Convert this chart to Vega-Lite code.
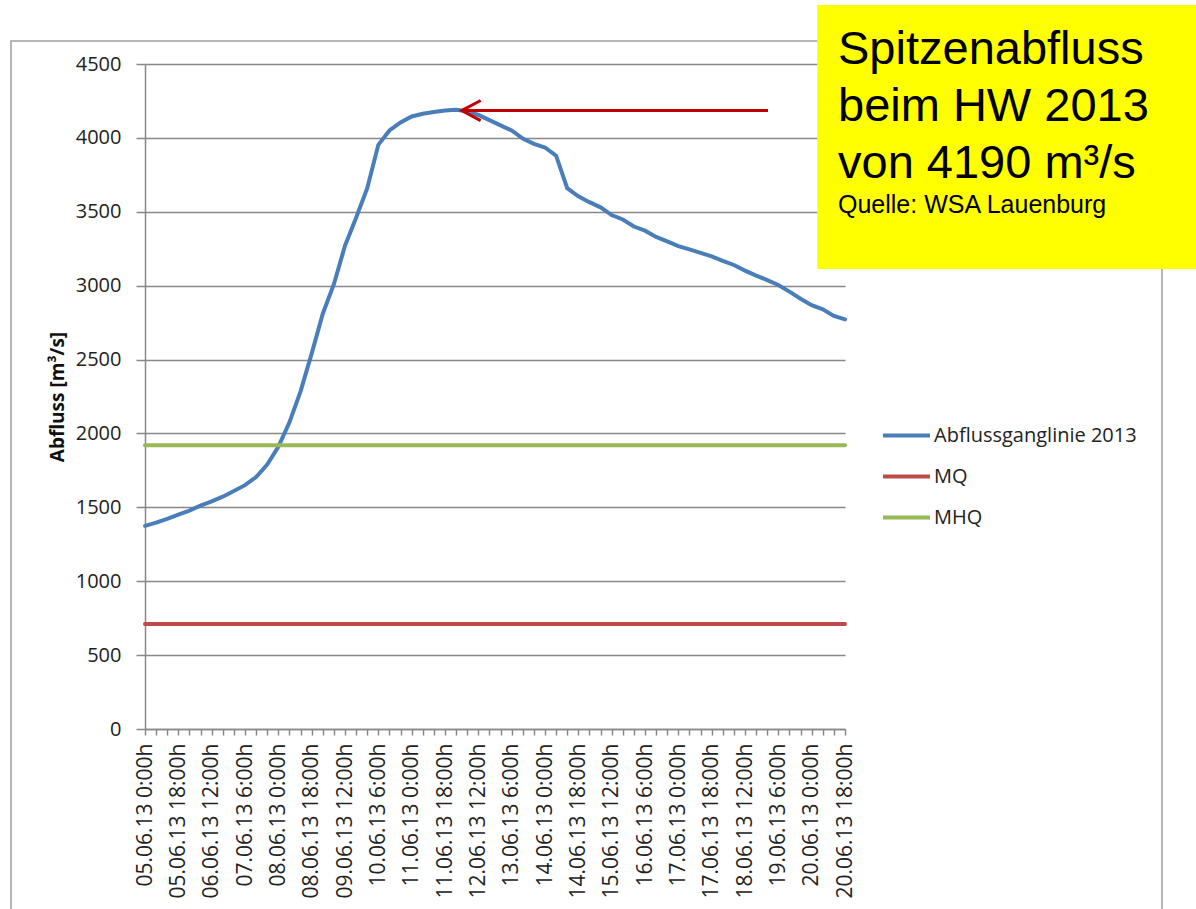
{
  "$schema": "https://vega.github.io/schema/vega-lite/v6.json",
  "width": 700,
  "height": 665,
  "autosize": {"type": "none"},
  "padding": {"left": 145, "top": 64, "right": 351, "bottom": 180},
  "background": "white",
  "config": {"view": {"stroke": null}, "font": "Open Sans"},
  "resolve": {"scale": {"x": "independent", "y": "independent"}},
  "layer": [
    {
      "data": {
        "values": [
          {"k": 0, "t": "05.06.13 0:00h", "Q": 1375, "series": "Abflussganglinie 2013"},
          {"k": 1, "t": "05.06.13 6:00h", "Q": 1396, "series": "Abflussganglinie 2013"},
          {"k": 2, "t": "05.06.13 12:00h", "Q": 1422, "series": "Abflussganglinie 2013"},
          {"k": 3, "t": "05.06.13 18:00h", "Q": 1450, "series": "Abflussganglinie 2013"},
          {"k": 4, "t": "06.06.13 0:00h", "Q": 1478, "series": "Abflussganglinie 2013"},
          {"k": 5, "t": "06.06.13 6:00h", "Q": 1512, "series": "Abflussganglinie 2013"},
          {"k": 6, "t": "06.06.13 12:00h", "Q": 1540, "series": "Abflussganglinie 2013"},
          {"k": 7, "t": "06.06.13 18:00h", "Q": 1572, "series": "Abflussganglinie 2013"},
          {"k": 8, "t": "07.06.13 0:00h", "Q": 1610, "series": "Abflussganglinie 2013"},
          {"k": 9, "t": "07.06.13 6:00h", "Q": 1650, "series": "Abflussganglinie 2013"},
          {"k": 10, "t": "07.06.13 12:00h", "Q": 1705, "series": "Abflussganglinie 2013"},
          {"k": 11, "t": "07.06.13 18:00h", "Q": 1790, "series": "Abflussganglinie 2013"},
          {"k": 12, "t": "08.06.13 0:00h", "Q": 1910, "series": "Abflussganglinie 2013"},
          {"k": 13, "t": "08.06.13 6:00h", "Q": 2075, "series": "Abflussganglinie 2013"},
          {"k": 14, "t": "08.06.13 12:00h", "Q": 2285, "series": "Abflussganglinie 2013"},
          {"k": 15, "t": "08.06.13 18:00h", "Q": 2540, "series": "Abflussganglinie 2013"},
          {"k": 16, "t": "09.06.13 0:00h", "Q": 2810, "series": "Abflussganglinie 2013"},
          {"k": 17, "t": "09.06.13 6:00h", "Q": 3010, "series": "Abflussganglinie 2013"},
          {"k": 18, "t": "09.06.13 12:00h", "Q": 3270, "series": "Abflussganglinie 2013"},
          {"k": 19, "t": "09.06.13 18:00h", "Q": 3460, "series": "Abflussganglinie 2013"},
          {"k": 20, "t": "10.06.13 0:00h", "Q": 3660, "series": "Abflussganglinie 2013"},
          {"k": 21, "t": "10.06.13 6:00h", "Q": 3953, "series": "Abflussganglinie 2013"},
          {"k": 22, "t": "10.06.13 12:00h", "Q": 4050, "series": "Abflussganglinie 2013"},
          {"k": 23, "t": "10.06.13 18:00h", "Q": 4105, "series": "Abflussganglinie 2013"},
          {"k": 24, "t": "11.06.13 0:00h", "Q": 4145, "series": "Abflussganglinie 2013"},
          {"k": 25, "t": "11.06.13 6:00h", "Q": 4163, "series": "Abflussganglinie 2013"},
          {"k": 26, "t": "11.06.13 12:00h", "Q": 4175, "series": "Abflussganglinie 2013"},
          {"k": 27, "t": "11.06.13 18:00h", "Q": 4186, "series": "Abflussganglinie 2013"},
          {"k": 28, "t": "12.06.13 0:00h", "Q": 4190, "series": "Abflussganglinie 2013"},
          {"k": 29, "t": "12.06.13 6:00h", "Q": 4180, "series": "Abflussganglinie 2013"},
          {"k": 30, "t": "12.06.13 12:00h", "Q": 4155, "series": "Abflussganglinie 2013"},
          {"k": 31, "t": "12.06.13 18:00h", "Q": 4120, "series": "Abflussganglinie 2013"},
          {"k": 32, "t": "13.06.13 0:00h", "Q": 4085, "series": "Abflussganglinie 2013"},
          {"k": 33, "t": "13.06.13 6:00h", "Q": 4050, "series": "Abflussganglinie 2013"},
          {"k": 34, "t": "13.06.13 12:00h", "Q": 3995, "series": "Abflussganglinie 2013"},
          {"k": 35, "t": "13.06.13 18:00h", "Q": 3960, "series": "Abflussganglinie 2013"},
          {"k": 36, "t": "14.06.13 0:00h", "Q": 3935, "series": "Abflussganglinie 2013"},
          {"k": 37, "t": "14.06.13 6:00h", "Q": 3880, "series": "Abflussganglinie 2013"},
          {"k": 38, "t": "14.06.13 12:00h", "Q": 3660, "series": "Abflussganglinie 2013"},
          {"k": 39, "t": "14.06.13 18:00h", "Q": 3605, "series": "Abflussganglinie 2013"},
          {"k": 40, "t": "15.06.13 0:00h", "Q": 3565, "series": "Abflussganglinie 2013"},
          {"k": 41, "t": "15.06.13 6:00h", "Q": 3530, "series": "Abflussganglinie 2013"},
          {"k": 42, "t": "15.06.13 12:00h", "Q": 3478, "series": "Abflussganglinie 2013"},
          {"k": 43, "t": "15.06.13 18:00h", "Q": 3448, "series": "Abflussganglinie 2013"},
          {"k": 44, "t": "16.06.13 0:00h", "Q": 3400, "series": "Abflussganglinie 2013"},
          {"k": 45, "t": "16.06.13 6:00h", "Q": 3372, "series": "Abflussganglinie 2013"},
          {"k": 46, "t": "16.06.13 12:00h", "Q": 3330, "series": "Abflussganglinie 2013"},
          {"k": 47, "t": "16.06.13 18:00h", "Q": 3300, "series": "Abflussganglinie 2013"},
          {"k": 48, "t": "17.06.13 0:00h", "Q": 3268, "series": "Abflussganglinie 2013"},
          {"k": 49, "t": "17.06.13 6:00h", "Q": 3245, "series": "Abflussganglinie 2013"},
          {"k": 50, "t": "17.06.13 12:00h", "Q": 3222, "series": "Abflussganglinie 2013"},
          {"k": 51, "t": "17.06.13 18:00h", "Q": 3198, "series": "Abflussganglinie 2013"},
          {"k": 52, "t": "18.06.13 0:00h", "Q": 3168, "series": "Abflussganglinie 2013"},
          {"k": 53, "t": "18.06.13 6:00h", "Q": 3140, "series": "Abflussganglinie 2013"},
          {"k": 54, "t": "18.06.13 12:00h", "Q": 3102, "series": "Abflussganglinie 2013"},
          {"k": 55, "t": "18.06.13 18:00h", "Q": 3068, "series": "Abflussganglinie 2013"},
          {"k": 56, "t": "19.06.13 0:00h", "Q": 3038, "series": "Abflussganglinie 2013"},
          {"k": 57, "t": "19.06.13 6:00h", "Q": 3005, "series": "Abflussganglinie 2013"},
          {"k": 58, "t": "19.06.13 12:00h", "Q": 2960, "series": "Abflussganglinie 2013"},
          {"k": 59, "t": "19.06.13 18:00h", "Q": 2912, "series": "Abflussganglinie 2013"},
          {"k": 60, "t": "20.06.13 0:00h", "Q": 2868, "series": "Abflussganglinie 2013"},
          {"k": 61, "t": "20.06.13 6:00h", "Q": 2840, "series": "Abflussganglinie 2013"},
          {"k": 62, "t": "20.06.13 12:00h", "Q": 2795, "series": "Abflussganglinie 2013"},
          {"k": 63, "t": "20.06.13 18:00h", "Q": 2772, "series": "Abflussganglinie 2013"},
          {"k": 0, "t": "05.06.13 0:00h", "Q": 710, "series": "MQ"},
          {"k": 63, "t": "20.06.13 18:00h", "Q": 710, "series": "MQ"},
          {"k": 0, "t": "05.06.13 0:00h", "Q": 1920, "series": "MHQ"},
          {"k": 63, "t": "20.06.13 18:00h", "Q": 1920, "series": "MHQ"}
        ]
      },
      "mark": {"type": "line", "strokeWidth": 4, "strokeCap": "round"},
      "encoding": {
        "x": {
          "field": "t",
          "type": "nominal",
          "sort": null,
          "scale": {"type": "point", "padding": 0},
          "axis": {
            "title": null,
            "labelAngle": 270,
            "labelAlign": "right",
            "labelBaseline": "middle",
            "labelFont": "Open Sans",
            "labelFontSize": 21,
            "labelColor": "#222222",
            "labelPadding": 8,
            "labelOverlap": false,
            "labelBound": false,
            "labelExpr": "indexof(['05.06.13 0:00h','05.06.13 18:00h','06.06.13 12:00h','07.06.13 6:00h','08.06.13 0:00h','08.06.13 18:00h','09.06.13 12:00h','10.06.13 6:00h','11.06.13 0:00h','11.06.13 18:00h','12.06.13 12:00h','13.06.13 6:00h','14.06.13 0:00h','14.06.13 18:00h','15.06.13 12:00h','16.06.13 6:00h','17.06.13 0:00h','17.06.13 18:00h','18.06.13 12:00h','19.06.13 6:00h','20.06.13 0:00h','20.06.13 18:00h'], datum.value) >= 0 ? datum.value : ''",
            "tickSize": 6,
            "tickColor": "#888888",
            "tickWidth": 1.5,
            "domainColor": "#888888",
            "domainWidth": 1.5,
            "grid": false
          }
        },
        "y": {
          "field": "Q",
          "type": "quantitative",
          "scale": {"domain": [0, 4500], "nice": false, "zero": true},
          "axis": {
            "title": "Abfluss [m³/s]",
            "titleFont": "Open Sans",
            "titleFontSize": 19,
            "titleFontWeight": "bold",
            "titleColor": "#111111",
            "titlePadding": 8,
            "format": "d",
            "values": [0, 500, 1000, 1500, 2000, 2500, 3000, 3500, 4000, 4500],
            "labelFont": "Open Sans",
            "labelFontSize": 20,
            "labelColor": "#222222",
            "labelPadding": 15,
            "tickSize": 9,
            "tickColor": "#888888",
            "tickWidth": 1.5,
            "domainColor": "#888888",
            "domainWidth": 1.5,
            "grid": true,
            "gridColor": "#888888",
            "gridWidth": 1.5
          }
        },
        "order": {"field": "k", "type": "quantitative"},
        "color": {
          "field": "series",
          "type": "nominal",
          "scale": {
            "domain": ["Abflussganglinie 2013", "MQ", "MHQ"],
            "range": ["#4a7ebb", "#be4b48", "#98b954"]
          },
          "legend": {
            "title": null,
            "orient": "none",
            "legendX": 736,
            "legendY": 346,
            "direction": "vertical",
            "symbolType": "stroke",
            "symbolSize": 2209,
            "symbolStrokeWidth": 4,
            "labelFont": "Open Sans",
            "labelFontSize": 20,
            "labelColor": "#222222",
            "labelOffset": 2,
            "labelLimit": 0,
            "rowPadding": 5
          }
        }
      }
    },
    {
      "layer": [
        {
          "data": {"values": [{"x1": -12.06, "x2": 91.53, "y1": -1500, "y2": 4656}]},
          "mark": {"type": "rect", "fillOpacity": 0, "stroke": "#a0a0a0", "strokeWidth": 1.5},
          "encoding": {
            "x": {"field": "x1", "type": "quantitative", "scale": {"domain": [0, 63], "nice": false, "zero": false}, "axis": null},
            "x2": {"field": "x2"},
            "y": {"field": "y1", "type": "quantitative", "scale": {"domain": [0, 4500], "nice": false}, "axis": null},
            "y2": {"field": "y2"}
          }
        },
        {
          "data": {"values": [{"x1": 60.5, "x2": 94.6, "y1": 3113, "y2": 4899}]},
          "mark": {"type": "rect", "fill": "#ffff00"},
          "encoding": {
            "x": {"field": "x1", "type": "quantitative", "scale": {"domain": [0, 63], "nice": false, "zero": false}, "axis": null},
            "x2": {"field": "x2"},
            "y": {"field": "y1", "type": "quantitative", "scale": {"domain": [0, 4500], "nice": false}, "axis": null},
            "y2": {"field": "y2"}
          }
        },
        {
          "data": {"values": [{"i": 62.37, "Q": 4500}]},
          "mark": {
            "type": "text",
            "text": ["Spitzenabfluss", "beim HW 2013", "von 4190 m³/s"],
            "font": "Liberation Sans",
            "fontSize": 47,
            "lineHeight": 57,
            "align": "left",
            "baseline": "alphabetic",
            "color": "#000000"
          },
          "encoding": {
            "x": {"field": "i", "type": "quantitative", "scale": {"domain": [0, 63], "nice": false, "zero": false}, "axis": null},
            "y": {"field": "Q", "type": "quantitative", "scale": {"domain": [0, 4500], "nice": false}, "axis": null}
          }
        },
        {
          "data": {"values": [{"i": 62.37, "Q": 3490}]},
          "mark": {
            "type": "text",
            "text": "Quelle: WSA Lauenburg",
            "font": "Liberation Sans",
            "fontSize": 25,
            "align": "left",
            "baseline": "alphabetic",
            "color": "#000000"
          },
          "encoding": {
            "x": {"field": "i", "type": "quantitative", "scale": {"domain": [0, 63], "nice": false, "zero": false}, "axis": null},
            "y": {"field": "Q", "type": "quantitative", "scale": {"domain": [0, 4500], "nice": false}, "axis": null}
          }
        },
        {
          "data": {"values": [{"i": 28.6, "Q": 4185}, {"i": 56.07, "Q": 4185}]},
          "mark": {"type": "line", "color": "#c00000", "strokeWidth": 3},
          "encoding": {
            "x": {"field": "i", "type": "quantitative", "scale": {"domain": [0, 63], "nice": false, "zero": false}, "axis": null},
            "y": {"field": "Q", "type": "quantitative", "scale": {"domain": [0, 4500], "nice": false}, "axis": null}
          }
        },
        {
          "data": {"values": [{"i": 28.5, "Q": 4185}]},
          "mark": {
            "type": "point",
            "shape": "M1,-0.53L0,0L1,0.53",
            "size": 1444,
            "filled": false,
            "stroke": "#c00000",
            "strokeWidth": 3,
            "opacity": 1
          },
          "encoding": {
            "x": {"field": "i", "type": "quantitative", "scale": {"domain": [0, 63], "nice": false, "zero": false}, "axis": null},
            "y": {"field": "Q", "type": "quantitative", "scale": {"domain": [0, 4500], "nice": false}, "axis": null}
          }
        }
      ]
    }
  ]
}
